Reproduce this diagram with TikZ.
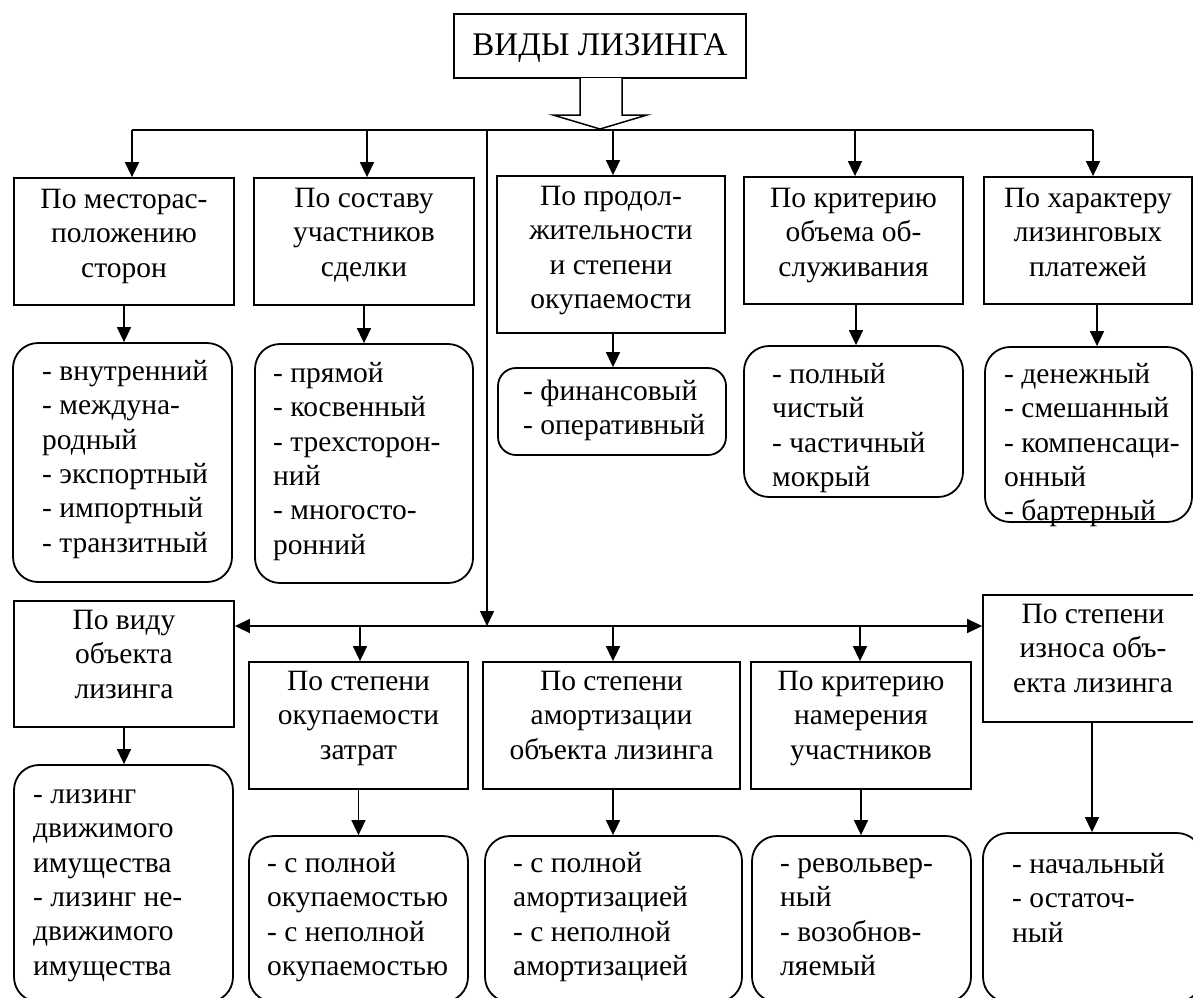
\documentclass[tikz,border=0pt]{standalone}
\usepackage{fontspec}
\setmainfont{Liberation Serif}
\usetikzlibrary{arrows.meta}
\newcommand\mkbox[6]{%
  \pgfmathsetmacro\cxx{(#3+#5)/2}\pgfmathsetmacro\cyy{(#4+#6)/2}%
  \pgfmathsetmacro\www{#5-#3}\pgfmathsetmacro\hhh{#6-#4}%
  \node[#1, minimum width=\www pt, minimum height=\hhh pt] (#2) at (\cxx,\cyy) {};}
\newcommand\fs{\rule{0pt}{24.1pt}}
\begin{document}
\begin{tikzpicture}[x=1pt,y=-1pt,
  hbox/.style={draw, line width=1.8pt, rectangle, inner sep=0pt},
  lbox/.style={draw, line width=1.8pt, rectangle, rounded corners=25pt, inner sep=0pt},
  sbox/.style={draw, line width=1.8pt, rectangle, rounded corners=18pt, inner sep=0pt},
  htxt/.style={anchor=north, inner sep=0pt, align=center, font=\fontsize{29.5}{34.4}\selectfont},
  ltxt/.style={anchor=north west, inner sep=0pt, align=left, font=\fontsize{29.5}{34.4}\selectfont},
  tip/.tip={Triangle[length=15pt,width=14pt]},
  arr/.style={line width=1.5pt, -tip},
  ln/.style={line width=1.5pt}]
\useasboundingbox (0,0) rectangle (1193,997);
\clip (0,0) rectangle (1193,997);
\fill[white] (0,0) rectangle (1193,997);

% title
\mkbox{hbox}{title}{454}{14}{746}{78}
\node[anchor=base, inner sep=0pt, font=\fontsize{33}{38}\selectfont] (titlet) at (600,55) {ВИДЫ ЛИЗИНГА};
\draw[line width=1.5pt, fill=white] (580,78) -- (580,115) -- (553,115) -- (600,129) -- (647,115) -- (622,115) -- (622,78);

% top row boxes
\mkbox{hbox}{b1}{14}{178}{234}{305}
\mkbox{hbox}{b2}{254}{178}{474}{305}
\mkbox{hbox}{b3}{497}{176}{725}{333}
\mkbox{hbox}{b4}{744}{177}{963}{304}
\mkbox{hbox}{b5}{984}{177}{1192}{304}

\node[htxt] (b1t) at (124,183.9) {\fs По месторас-\\положению\\сторон};
\node[htxt] (b2t) at (364,182.9) {\fs По составу\\участников\\сделки};
\node[htxt] (b3t) at (611,180.9) {\fs По продол-\\жительности\\и степени\\окупаемости};
\node[htxt] (b4t) at (853.5,182.9) {\fs По критерию\\объема об-\\служивания};
\node[htxt] (b5t) at (1088,182.9) {\fs По характеру\\лизинговых\\платежей};

% top row leaves
\mkbox{lbox}{l1}{13}{343}{232}{582}
\mkbox{lbox}{l2}{255}{344}{473}{583}
\mkbox{sbox}{l3}{498}{368}{726}{455}
\mkbox{lbox}{l4}{744}{346}{963}{497}
\mkbox{lbox}{l5}{985}{347}{1192}{522}

\node[ltxt] (l1t) at (42,355.9) {\fs - внутренний\\- междуна-\\родный\\- экспортный\\- импортный\\- транзитный};
\node[ltxt] (l2t) at (273,357.9) {\fs - прямой\\- косвенный\\- трехсторон-\\ний\\- многосто-\\ронний};
\node[ltxt] (l3t) at (523,375.9) {\fs - финансовый\\- оперативный};
\node[ltxt] (l4t) at (772,358.9) {\fs - полный\\чистый\\- частичный\\мокрый};
\node[ltxt] (l5t) at (1004,358.9) {\fs - денежный\\- смешанный\\- компенсаци-\\онный\\- бартерный};

% top connectors
\coordinate (t1) at (132,130);
\coordinate (t2) at (367,130);
\coordinate (t3) at (613,130);
\coordinate (t4) at (855,130);
\coordinate (t5) at (1093,130);
\draw[ln] (t1) -- (t5);
\draw[arr] (t1) -- (t1 |- b1.north);
\draw[arr] (t2) -- (t2 |- b2.north);
\draw[arr] (t3) -- (t3 |- b3.north);
\draw[arr] (t4) -- (t4 |- b4.north);
\draw[arr] (t5) -- (t5 |- b5.north);

\draw[arr] (b1.south) -- (b1.south |- l1.north);
\draw[arr] (b2.south) -- (b2.south |- l2.north);
\coordinate (d3) at (613,333);
\draw[arr] (d3) -- (d3 |- l3.north);
\coordinate (d4) at (856,304);
\draw[arr] (d4) -- (d4 |- l4.north);
\coordinate (d5) at (1097,304);
\draw[arr] (d5) -- (d5 |- l5.north);

% bottom row boxes
\mkbox{hbox}{b6}{14}{601}{234}{727}
\mkbox{hbox}{b7}{249}{662}{468}{789}
\mkbox{hbox}{b8}{483}{662}{740}{789}
\mkbox{hbox}{b9}{751}{662}{971}{789}
\mkbox{hbox}{b10}{983}{595}{1202}{722}

\node[htxt] (b6t) at (124,604.9) {\fs По виду\\объекта\\лизинга};
\node[htxt] (b7t) at (358.5,665.9) {\fs По степени\\окупаемости\\затрат};
\node[htxt] (b8t) at (611.5,665.9) {\fs По степени\\амортизации\\объекта лизинга};
\node[htxt] (b9t) at (861,665.9) {\fs По критерию\\намерения\\участников};
\node[htxt] (b10t) at (1093,598.9) {\fs По степени\\износа объ-\\екта лизинга};

% bottom row leaves
\mkbox{lbox}{l6}{14}{765}{233}{1002}
\mkbox{lbox}{l7}{249}{836}{468}{1002}
\mkbox{lbox}{l8}{485}{836}{742}{1002}
\mkbox{lbox}{l9}{752}{836}{971}{1002}
\mkbox{lbox}{l10}{983}{833}{1202}{1002}

\node[ltxt] (l6t) at (33,778.9) {\fs - лизинг\\движимого\\имущества\\- лизинг не-\\движимого\\имущества};
\node[ltxt] (l7t) at (267,847.9) {\fs - с полной\\окупаемостью\\- с неполной\\окупаемостью};
\node[ltxt] (l8t) at (513,847.9) {\fs - с полной\\амортизацией\\- с неполной\\амортизацией};
\node[ltxt] (l9t) at (780,847.9) {\fs - револьвер-\\ный\\- возобнов-\\ляемый};
\node[ltxt] (l10t) at (1012,848.9) {\fs - начальный\\- остаточ-\\ный};

% middle connectors
\coordinate (v0) at (487,130);
\coordinate (v1) at (487,626);
\draw[arr] (v0) -- (v1);
\draw[ln, tip-tip] (b6.east |- v1) -- (b10.west |- v1);
\coordinate (m7) at (360,626);
\coordinate (m8) at (613,626);
\coordinate (m9) at (860,626);
\draw[arr] (m7) -- (m7 |- b7.north);
\draw[arr] (m8) -- (m8 |- b8.north);
\draw[arr] (m9) -- (m9 |- b9.north);

\draw[arr] (b6.south) -- (b6.south |- l6.north);
\draw[arr] (b7.south) -- (b7.south |- l7.north);
\coordinate (d8) at (613,789);
\draw[arr] (d8) -- (d8 |- l8.north);
\draw[arr] (b9.south) -- (b9.south |- l9.north);
\coordinate (d10) at (1092,722);
\draw[arr] (d10) -- (d10 |- l10.north);
\end{tikzpicture}
\end{document}
